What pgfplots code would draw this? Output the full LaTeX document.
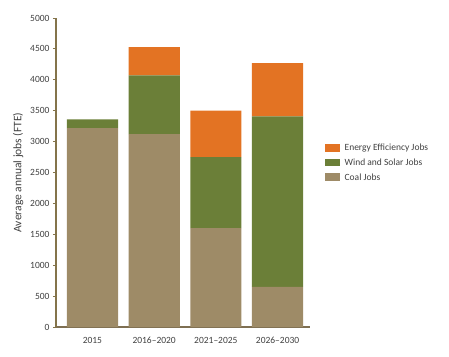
\documentclass[border=0pt]{standalone}
\usepackage{pgfplots}
\pgfplotsset{compat=1.18}
\usepackage{fontspec}
\setmainfont{Carlito}
\definecolor{coal}{HTML}{9E8B67}
\definecolor{wind}{HTML}{6B7F38}
\definecolor{eff}{HTML}{E37323}
\definecolor{axbrown}{HTML}{84744B}
\definecolor{txt}{HTML}{404040}
\begin{document}
\begin{tikzpicture}
\begin{axis}[
  name=ax,
  scale only axis,
  width=254pt, height=309pt,
  ybar stacked,
  bar width=0.83,
  xmin=-0.59, xmax=3.525,
  ymin=0, ymax=5000,
  xtick=data,
  xticklabels={2015, 2016--2020, 2021--2025, 2026--2030},
  ytick={0,500,...,5000},
  axis lines=left,
  axis line style={-},
  x axis line style={draw=coal!80!black, line width=1.2pt},
  y axis line style={draw=axbrown, line width=1.4pt},
  xtick style={draw=none},
  ytick style={draw=axbrown, line width=0.8pt},
  tick align=outside,
  major tick length=3pt,
  scaled y ticks=false,
  /pgf/number format/assume math mode=true,
  yticklabel style={/pgf/number format/1000 sep={}, font=\fontsize{9.5}{10}\selectfont, text=txt},
  xticklabel style={font=\fontsize{9.5}{10}\selectfont, text=txt, yshift=-4pt},
  ylabel={Average annual jobs (FTE)},
  ylabel style={font=\fontsize{11.5}{13}\selectfont, text=txt},
  legend style={at={(1.045,0.605)}, anchor=north west, draw=none, fill=none,
    font=\fontsize{9.5}{10}\selectfont, text=txt, row sep=2.5pt,
    legend cell align=left,
    nodes={inner xsep=5pt}},
  reverse legend,
  legend image code/.code={\fill[#1] (0pt,-3.5pt) rectangle (15pt,4pt);},
]
\addplot[fill=coal, draw=none] coordinates {(0,3220) (1,3120) (2,1600) (3,650)};
\addplot[fill=wind, draw=none] coordinates {(0,140) (1,950) (2,1150) (3,2760)};
\addplot[fill=eff, draw=none] coordinates {(0,0) (1,460) (2,750) (3,860)};
\legend{Coal Jobs, Wind and Solar Jobs, Energy Efficiency Jobs}
\end{axis}
\path ([shift={(-56pt,-29pt)}]ax.south west) rectangle ([shift={(139pt,18pt)}]ax.north east);
\end{tikzpicture}
\end{document}
